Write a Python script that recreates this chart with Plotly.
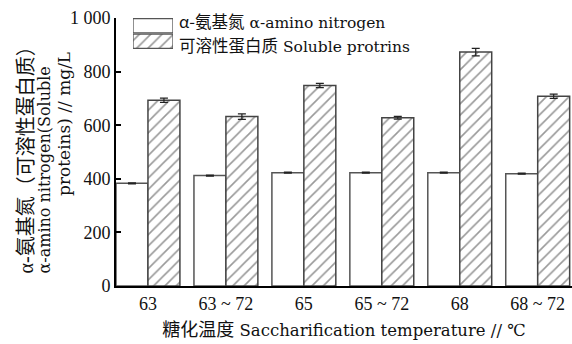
import plotly.graph_objects as go

categories = ["63", "63 ~ 72", "65", "65 ~ 72", "68", "68 ~ 72"]
amino_n = [383, 412, 423, 423, 423, 419]
amino_err = [2, 2, 2, 2, 2, 2]
soluble = [693, 632, 748, 628, 873, 708]
soluble_err = [8, 10, 8, 5, 14, 8]
y_ticks = [0, 200, 400, 600, 800, 1000]
y_ticktext = ["0", "200", "400", "600", "800", "1 000"]
legend_keys = ["amino", "soluble"]
legend_len = [1, 1]
legend_cn = ["α-氨基氮", "可溶性蛋白质"]
legend_en = ["α-amino nitrogen", "Soluble protrins"]

SERIF = "Liberation Serif, Noto Sans CJK SC, serif"
LAT = "DejaVu Serif, Noto Sans CJK SC, serif"
CJK = "Noto Sans CJK SC"

WHITE_LINE = "#555"
HATCH_LINE = "#444"
PATTERN = dict(fgcolor="#333", bgcolor="white", size=8, solidity=0.2)

fig = go.Figure()
fig.add_trace(go.Bar(
    x=categories, y=amino_n, name=legend_en[0], showlegend=False,
    marker=dict(color="white", line=dict(color=WHITE_LINE, width=1.5)),
    error_y=dict(type="data", array=amino_err, color="#222", thickness=1.2, width=4),
))
fig.add_trace(go.Bar(
    x=categories, y=soluble, name=legend_en[1], showlegend=False,
    marker=dict(color="white", line=dict(color=HATCH_LINE, width=1.5),
                pattern=dict(shape="/", **PATTERN)),
    error_y=dict(type="data", array=soluble_err, color="#222", thickness=1.2, width=4),
))
# legend swatches drawn on a small auxiliary axis pair
fig.add_trace(go.Bar(
    x=legend_len, y=legend_keys, orientation="h", xaxis="x2", yaxis="y2",
    width=0.92, showlegend=False, hoverinfo="skip",
    marker=dict(color="white", line=dict(color=WHITE_LINE, width=1.3),
                pattern=dict(shape=["", "/"], **PATTERN)),
))

PW = 456.0
PH = 268.0


def px_x(p):
    return (p - 116) / PW


def px_y(p):
    return (286 - p) / PH


annotations = []
for i, (cn, en) in enumerate(zip(legend_cn, legend_en)):
    annotations.append(dict(
        text=f'<span style="font-family:{CJK};font-size:16.5px">{cn}</span> {en}',
        xref="paper", yref="paper", x=px_x(177), y=px_y([21, 45][i]),
        xanchor="left", yanchor="middle", showarrow=False,
        font=dict(family=LAT, size=15.5, color="#111")))

ytitle_lines = ["α-氨基氮（可溶性蛋白质）", "α-amino nitrogen(Soluble", "proteins) // mg/L"]
annotations.append(dict(text=ytitle_lines[0], xref="paper", yref="paper",
                        x=px_x(25), y=px_y(276), xanchor="center", yanchor="bottom",
                        textangle=-90, showarrow=False, font=dict(family=SERIF, size=20)))
annotations.append(dict(text=ytitle_lines[1], xref="paper", yref="paper",
                        x=px_x(44), y=px_y(276), xanchor="center", yanchor="bottom",
                        textangle=-90, showarrow=False, font=dict(family=LAT, size=16)))
annotations.append(dict(text=ytitle_lines[2], xref="paper", yref="paper",
                        x=px_x(64), y=px_y(50), xanchor="center", yanchor="top",
                        textangle=-90, showarrow=False, font=dict(family=LAT, size=17)))

fig.update_layout(
    width=572, height=344,
    margin=dict(l=116, r=0, t=18, b=58),
    paper_bgcolor="white", plot_bgcolor="white",
    barmode="group", bargap=0.18, bargroupgap=0,
    font=dict(family=SERIF, size=16, color="#111"),
    showlegend=False,
    xaxis=dict(range=[-0.41, 5.44], showline=True, linecolor="black", linewidth=2,
               ticks="", tickfont=dict(size=18),
               title=dict(text=f'<span style="font-family:{CJK};font-size:18px">糖化温度</span> Saccharification temperature // ℃',
                          font=dict(family=LAT, size=16.5), standoff=12)),
    yaxis=dict(range=[0, 1000], tickvals=y_ticks, ticktext=y_ticktext, showline=True,
               linecolor="black", linewidth=2, ticks="inside", ticklen=5, tickwidth=2,
               tickcolor="black", showgrid=False, zeroline=False, tickfont=dict(size=18)),
    xaxis2=dict(domain=[px_x(133), px_x(173)], anchor="y2", range=[0, 1],
                visible=False, fixedrange=True),
    yaxis2=dict(domain=[px_y(49), 1.0], anchor="x2", range=[1.5, -0.5],
                visible=False, fixedrange=True),
    annotations=annotations,
)

fig.write_html("out.html")
